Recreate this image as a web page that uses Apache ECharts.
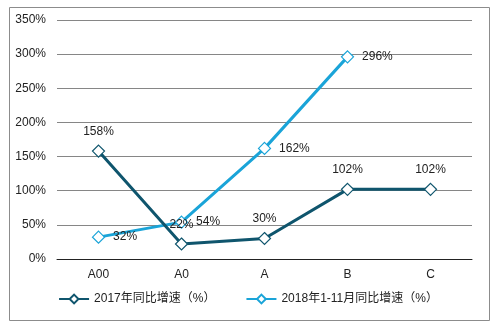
<!DOCTYPE html>
<html>
<head>
<meta charset="utf-8">
<script src="https://cdn.jsdelivr.net/npm/echarts@6/dist/echarts.min.js"></script>
<style>html,body{margin:0;padding:0;background:#fff;}#c{width:496px;height:325px;}</style>
</head>
<body>
<div id="c"></div>
<script>
var categories = ['A00', 'A0', 'A', 'B', 'C'];
var series2017 = [158, 22, 30, 102, 102];
var series2018 = [32, 54, 162, 296, null];
var name2017 = '2017年同比增速（%）';
var name2018 = '2018年1-11月同比增速（%）';
var yTicks = { min: 0, max: 350, interval: 50 };

var fontFam = '"Liberation Sans", Arial, "Noto Sans CJK SC", sans-serif';
var chart = echarts.init(document.getElementById('c'));
chart.setOption({
  animation: false,
  backgroundColor: '#fff',
  graphic: [{
    type: 'rect', left: 7, top: 5, shape: { width: 480, height: 313 },
    style: { fill: 'none', stroke: '#8c8c8c', lineWidth: 1 }, silent: true
  }],
  grid: { left: 57, right: 24, top: 20, bottom: 66 },
  legend: {
    bottom: 15, left: 'center', itemGap: 30, itemWidth: 30, itemHeight: 11,
    textStyle: { fontSize: 12, color: '#222', fontFamily: fontFam },
    data: [name2017, name2018]
  },
  xAxis: {
    type: 'category', data: categories, boundaryGap: true,
    axisLine: { lineStyle: { color: '#222', width: 1 } },
    axisTick: { show: false },
    axisLabel: { color: '#222', fontSize: 12, margin: 10, fontFamily: fontFam }
  },
  yAxis: {
    type: 'value', min: yTicks.min, max: yTicks.max, interval: yTicks.interval,
    axisLine: { show: false }, axisTick: { show: false },
    axisLabel: { formatter: '{value}%', color: '#222', fontSize: 12, margin: 11, fontFamily: fontFam },
    splitLine: { lineStyle: { color: '#868686', width: 1 } }
  },
  series: [{
    name: name2017, type: 'line', data: series2017,
    symbol: 'diamond', symbolSize: 12, showAllSymbol: true,
    lineStyle: { color: '#0f556d', width: 3 },
    itemStyle: { color: '#fff', borderColor: '#0f556d', borderWidth: 1.2 },
    label: { show: true, position: 'top', distance: 7, formatter: '{c}%', color: '#222', fontSize: 12, fontFamily: fontFam },
    z: 3
  }, {
    name: name2018, type: 'line', data: series2018,
    symbol: 'diamond', symbolSize: 12, showAllSymbol: true,
    lineStyle: { color: '#1aa4d8', width: 3 },
    itemStyle: { color: '#fff', borderColor: '#1aa4d8', borderWidth: 1.2 },
    label: { show: true, position: 'right', distance: 8, formatter: '{c}%', color: '#222', fontSize: 12, fontFamily: fontFam },
    z: 2
  }]
});
</script>
</body>
</html>
